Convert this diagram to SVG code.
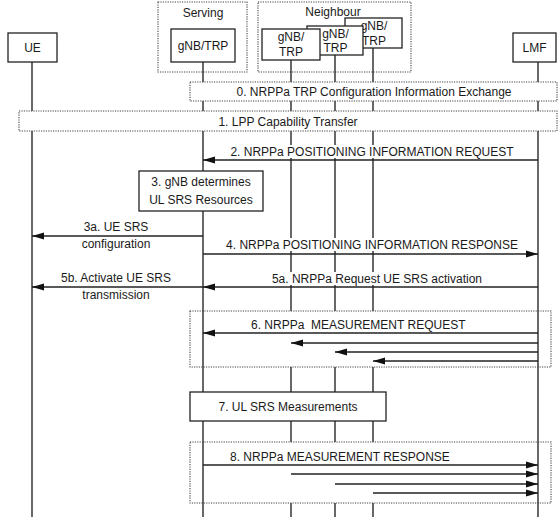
<svg xmlns="http://www.w3.org/2000/svg" width="559" height="520" viewBox="0 0 559 520">
<style>
text{font-family:"Liberation Sans",Arial,sans-serif;font-size:12px;fill:#1a1a1a}
.c{text-anchor:middle}
.box{fill:#fff;stroke:#222;stroke-width:1.3}
.dot{fill:#fff;stroke:#444;stroke-width:1.1;stroke-dasharray:1.2 1.2}
.dotn{fill:none;stroke:#444;stroke-width:1.1;stroke-dasharray:1.2 1.2}
.life{stroke:#2a2a2a;stroke-width:1.4;fill:none}
.msg{stroke:#222;stroke-width:1.3;fill:none;marker-end:url(#ah)}
.bg{fill:#fff}
</style>
<defs>
<marker id="ah" markerUnits="userSpaceOnUse" markerWidth="12" markerHeight="8" refX="12" refY="4" orient="auto">
<path d="M0,0.5 L12,4 L0,7.5 z" fill="#111"/>
</marker>
</defs>

<g id="serving-group">
<rect class="dotn" x="158" y="2" width="89" height="70"/>
<text class="c" x="203" y="16.5">Serving</text>
</g>
<g id="neighbour-group">
<rect class="dotn" x="258" y="2" width="153" height="70"/>
<text class="c" x="333" y="16">Neighbour</text>
</g>

<g id="lifelines">
<path class="life" d="M32,62 V111 M32,131 V517"/>
<path class="life" d="M203,62 V82 M203,101 V111 M203,131 V171 M203,211 V392 M203,421 V517"/>
<path class="life" d="M291,60 V82 M291,101 V111 M291,131 V311 M291,343 V392 M291,421 V442 M291,474 V517"/>
<path class="life" d="M335,55 V82 M335,101 V111 M335,131 V311 M335,352 V392 M335,421 V442 M335,484 V517"/>
<path class="life" d="M373,48 V82 M373,101 V111 M373,131 V311 M373,361 V392 M373,421 V442 M373,493 V517"/>
<path class="life" d="M538,61 V82 M538,101 V111 M538,131 V517"/>
</g>

<g id="ue">
<rect class="box" x="8" y="33" width="49" height="29"/>
<text class="c" x="32.5" y="52">UE</text>
</g>
<g id="serving-gnb">
<rect class="box" x="171" y="29" width="64" height="33"/>
<text class="c" x="203" y="49.5">gNB/TRP</text>
</g>
<g id="neighbour-gnb3">
<rect class="box" x="345" y="18" width="57" height="30"/>
<text class="c" x="374" y="29.5">gNB/</text>
<text class="c" x="374" y="44.5">TRP</text>
</g>
<g id="neighbour-gnb2">
<rect class="box" x="307" y="26" width="56" height="29"/>
<text class="c" x="335.5" y="37.5">gNB/</text>
<text class="c" x="335.5" y="51.5">TRP</text>
</g>
<g id="neighbour-gnb1">
<rect class="box" x="262" y="29" width="58" height="31"/>
<text class="c" x="291" y="41">gNB/</text>
<text class="c" x="291" y="56">TRP</text>
</g>
<g id="lmf">
<rect class="box" x="513" y="33" width="43" height="29"/>
<text class="c" x="534.5" y="52">LMF</text>
</g>

<g id="step0">
<rect class="dot" x="190" y="82" width="367" height="19"/>
<text class="c" x="374" y="96">0. NRPPa TRP Configuration Information Exchange</text>
</g>
<g id="step1">
<rect class="dot" x="19" y="111" width="538" height="20"/>
<text class="c" x="288" y="125.5">1. LPP Capability Transfer</text>
</g>
<g id="step3">
<rect class="box" x="139" y="171" width="124" height="40"/>
<text class="c" x="201" y="186">3. gNB determines</text>
<text class="c" x="201" y="203.5">UL SRS Resources</text>
</g>
<g id="step6">
<rect class="dot" x="190" y="311" width="361" height="56"/>
<path class="life" d="M203,311 V367 M538,311 V367"/>
<text x="251" y="328.5" style="white-space:pre">6. NRPPa  MEASUREMENT REQUEST</text>
</g>
<g id="step7">
<rect class="box" x="190" y="392" width="196" height="29"/>
<text class="c" x="288" y="411">7. UL SRS Measurements</text>
</g>
<g id="step8">
<rect class="dot" x="190" y="442" width="361" height="61"/>
<path class="life" d="M203,442 V503 M538,442 V503"/>
<text x="230" y="461">8. NRPPa MEASUREMENT RESPONSE</text>
</g>

<g id="connectors">
<line class="msg" x1="538" y1="160" x2="203" y2="160"/>
<line class="msg" x1="203" y1="236" x2="32" y2="236"/>
<line class="msg" x1="203" y1="254" x2="538" y2="254"/>
<line class="msg" x1="203" y1="287" x2="32" y2="287"/>
<line class="msg" x1="538" y1="287" x2="203" y2="287"/>
<line class="msg" x1="538" y1="333" x2="203" y2="333"/>
<line class="msg" x1="538" y1="343" x2="291" y2="343"/>
<line class="msg" x1="538" y1="352" x2="335" y2="352"/>
<line class="msg" x1="538" y1="361" x2="373" y2="361"/>
<line class="msg" x1="203" y1="465" x2="538" y2="465"/>
<line class="msg" x1="291" y1="474" x2="538" y2="474"/>
<line class="msg" x1="335" y1="484" x2="538" y2="484"/>
<line class="msg" x1="373" y1="493" x2="538" y2="493"/>
</g>

<g id="labels">
<rect class="bg" x="229" y="145" width="287" height="13"/>
<text class="c" x="372" y="156">2. NRPPa POSITIONING INFORMATION REQUEST</text>
<text class="c" x="116" y="230.5">3a. UE SRS</text>
<text class="c" x="116" y="248">configuration</text>
<rect class="bg" x="224" y="238" width="296" height="13"/>
<text class="c" x="372" y="249">4. NRPPa POSITIONING INFORMATION RESPONSE</text>
<text class="c" x="116" y="281.5">5b. Activate UE SRS</text>
<text class="c" x="116" y="299">transmission</text>
<rect class="bg" x="271" y="272" width="212" height="13"/>
<text class="c" x="377" y="283">5a. NRPPa Request UE SRS activation</text>
</g>
</svg>
